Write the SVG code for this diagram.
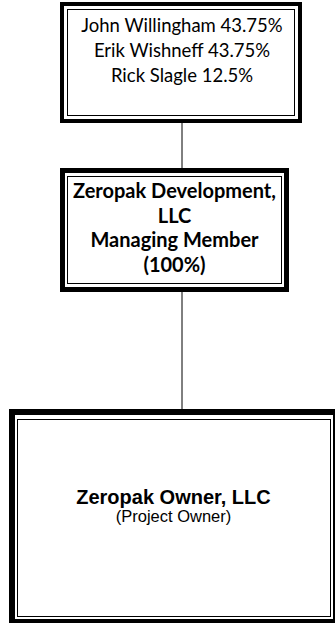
<svg xmlns="http://www.w3.org/2000/svg" width="335" height="623" viewBox="0 0 335 623">
<style>
.thick{fill:none;stroke:#000}
.thin{fill:none;stroke:#000;stroke-width:1}
.cal{font-family:Lato,"Open Sans",sans-serif;font-size:18.5px;fill:#000;text-anchor:middle}
.calb{font-family:Lato,"Open Sans",sans-serif;font-size:20px;font-weight:bold;fill:#000;text-anchor:middle}
.ar{font-family:"Liberation Sans",Arial,sans-serif;fill:#000;text-anchor:middle}
.conn{stroke:#000;stroke-width:1;fill:none}
</style>
<rect width="335" height="623" fill="#fff"/>
<g id="connectors">
<line class="conn" x1="182" y1="123" x2="182" y2="168"/>
<line class="conn" x1="182" y1="292" x2="182" y2="409"/>
</g>
<g id="owners">
<rect class="thick" x="62" y="4" width="238" height="117" stroke-width="4"/>
<rect class="thin" x="67.5" y="9.5" width="227" height="106"/>
<text class="cal" x="182" y="32">John Willingham 43.75%</text>
<text class="cal" x="182" y="57">Erik Wishneff 43.75%</text>
<text class="cal" x="182" y="82">Rick Slagle 12.5%</text>
</g>
<g id="development">
<rect class="thick" x="62.5" y="170.5" width="224" height="119" stroke-width="5"/>
<rect class="thin" x="67.5" y="176.5" width="214" height="107"/>
<text class="calb" x="174.5" y="198">Zeropak Development,</text>
<text class="calb" x="174.5" y="222.5">LLC</text>
<text class="calb" x="174.5" y="247">Managing Member</text>
<text class="calb" x="174.5" y="271.5">(100%)</text>
</g>
<g id="owner">
<rect class="thick" x="12" y="412" width="324" height="210" stroke-width="6"/>
<rect class="thin" x="17.5" y="419.5" width="313" height="197"/>
<text class="ar" x="173.5" y="504" font-size="20" font-weight="bold">Zeropak Owner, LLC</text>
<text class="ar" x="173.5" y="522" font-size="16.5">(Project Owner)</text>
</g>
</svg>
